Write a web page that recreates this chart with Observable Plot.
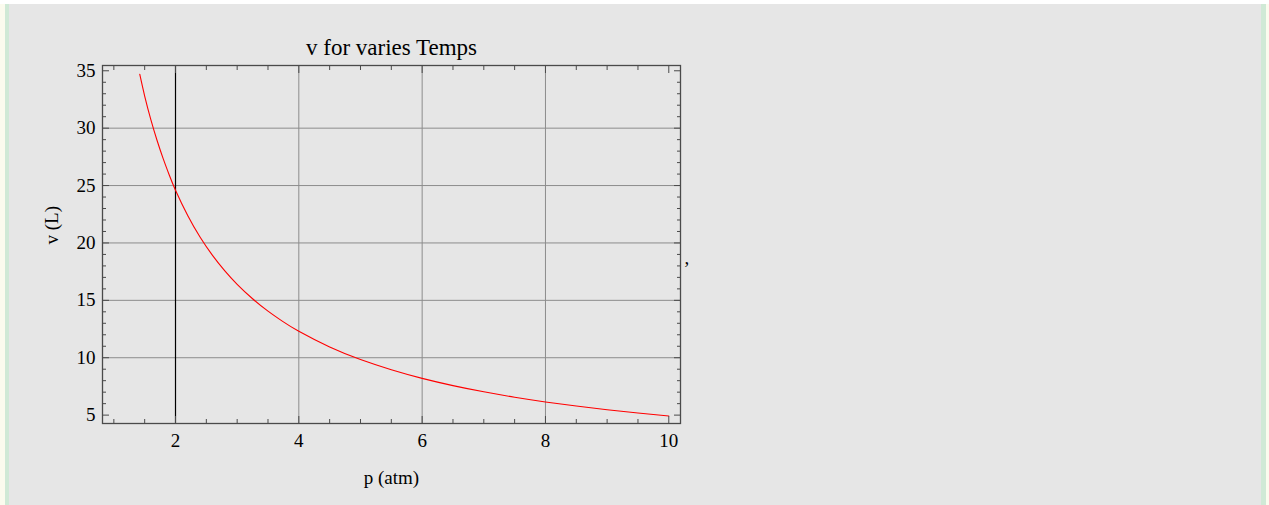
<!DOCTYPE html>
<html>
<head>
<meta charset="utf-8">
<script src="https://cdn.jsdelivr.net/npm/d3@7"></script>
<script src="https://cdn.jsdelivr.net/npm/@observablehq/plot@0.6"></script>
<style>
  html, body { margin: 0; padding: 0; background: #ffffff; width: 1269px; height: 505px; overflow: hidden; }
  #bgL1 { position: absolute; left: 0; top: 4px; width: 5px; height: 501px; background: #fbfbee; }
  #bgL2 { position: absolute; left: 5px; top: 4px; width: 4px; height: 501px; background: #d0e9d6; }
  #panel { position: absolute; left: 9px; top: 4px; width: 1252px; height: 501px; background: #e6e6e6; }
  #bgR1 { position: absolute; left: 1261px; top: 4px; width: 5px; height: 501px; background: #d0e9d6; }
  #bgR2 { position: absolute; left: 1266px; top: 4px; width: 3px; height: 501px; background: #fbfbee; }
  #chart { position: absolute; left: 0; top: 0; }
</style>
</head>
<body>
<div id="bgL1"></div><div id="bgL2"></div><div id="panel"></div><div id="bgR1"></div><div id="bgR2"></div>
<div id="chart"></div>
<script>
// Data: pressure (atm) vs volume (L)
const pressure = [1.42, 1.5, 1.6, 1.7, 1.8, 1.9, 2.0, 2.2, 2.4, 2.6, 2.8, 3.0, 3.25, 3.5, 3.75, 4.0, 4.5, 5.0, 5.5, 6.0, 6.5, 7.0, 7.5, 8.0, 8.5, 9.0, 9.5, 10.0];
const volume   = [34.7, 32.8, 30.75, 28.95, 27.35, 25.9, 24.6, 22.37, 20.5, 18.92, 17.57, 16.4, 15.14, 14.06, 13.12, 12.3, 10.93, 9.84, 8.95, 8.2, 7.57, 7.03, 6.56, 6.15, 5.79, 5.47, 5.18, 4.92];

const xMajorTicks = [2, 4, 6, 8, 10];
const xMinorTicks = [1, 1.5, 2.5, 3, 3.5, 4.5, 5, 5.5, 6.5, 7, 7.5, 8.5, 9, 9.5];
const yMajorTicks = [5, 10, 15, 20, 25, 30, 35];
const yMinorTicks = [6, 7, 8, 9, 11, 12, 13, 14, 16, 17, 18, 19, 21, 22, 23, 24, 26, 27, 28, 29, 31, 32, 33, 34];
const xGrid = [4, 6, 8];
const xAxisLine = [2];
const yGrid = [10, 15, 20, 25, 30];

const titleText = "v for varies Temps";
const xLabel = "p (atm)";
const yLabel = "v (L)";

const rows = pressure.map((p, i) => ({p, v: volume[i]}));

const frameColor = "#4a4a4a";
const gridColor = "#8c8c8c";

const chart = Plot.plot({
  width: 1269,
  height: 505,
  marginLeft: 102,
  marginRight: 589,
  marginTop: 65,
  marginBottom: 82,
  style: { background: "transparent", fontFamily: "'Liberation Serif', 'Times New Roman', serif", fontSize: "19px", color: "#000" },
  x: { domain: [0.816, 10.19], axis: null },
  y: { domain: [4.27, 35.46], axis: null },
  marks: [
    Plot.ruleX(xGrid, { stroke: gridColor, strokeWidth: 1 }),
    Plot.ruleY(yGrid, { stroke: gridColor, strokeWidth: 1 }),
    Plot.ruleX(xAxisLine, { stroke: "#000", strokeWidth: 1.2 }),
    Plot.line(rows, { x: "p", y: "v", stroke: "#ff0000", strokeWidth: 1.1, curve: "natural" }),
    Plot.axisX(xMajorTicks, { anchor: "bottom", tickSize: -7, stroke: frameColor, fill: "none", tickFormat: () => "", label: null }),
    Plot.axisX(xMinorTicks, { anchor: "bottom", tickSize: -4, stroke: frameColor, fill: "none", tickFormat: () => "", label: null }),
    Plot.axisX(xMajorTicks, { anchor: "top", tickSize: -7, stroke: frameColor, fill: "none", tickFormat: () => "", label: null }),
    Plot.axisX(xMinorTicks, { anchor: "top", tickSize: -4, stroke: frameColor, fill: "none", tickFormat: () => "", label: null }),
    Plot.axisY(yMajorTicks, { anchor: "left", tickSize: -7, stroke: frameColor, fill: "none", tickFormat: () => "", label: null }),
    Plot.axisY(yMinorTicks, { anchor: "left", tickSize: -4, stroke: frameColor, fill: "none", tickFormat: () => "", label: null }),
    Plot.axisY(yMajorTicks, { anchor: "right", tickSize: -7, stroke: frameColor, fill: "none", tickFormat: () => "", label: null }),
    Plot.axisY(yMinorTicks, { anchor: "right", tickSize: -4, stroke: frameColor, fill: "none", tickFormat: () => "", label: null }),
    Plot.frame({ stroke: frameColor, strokeWidth: 1.3 }),
    Plot.text(xMajorTicks, { x: d => d, text: d => String(d), frameAnchor: "bottom", dy: 17, lineAnchor: "middle", fill: "#000" }),
    Plot.text(yMajorTicks, { y: d => d, text: d => String(d), frameAnchor: "left", dx: -7, textAnchor: "end", lineAnchor: "middle", fill: "#000" }),
    Plot.text([titleText], { text: d => d, frameAnchor: "top", dy: -17.5, lineAnchor: "middle", fontSize: 23, fill: "#000" }),
    Plot.text([xLabel], { text: d => d, frameAnchor: "bottom", dy: 54, lineAnchor: "middle", fill: "#000" }),
    Plot.text([yLabel], { text: d => d, frameAnchor: "left", dx: -51, rotate: -90, lineAnchor: "middle", fill: "#000" }),
    Plot.text([","], { text: d => d, frameAnchor: "right", dx: 4, dy: 13, textAnchor: "start", lineAnchor: "middle", fill: "#000" })
  ]
});
document.getElementById("chart").appendChild(chart);
</script>
</body>
</html>
